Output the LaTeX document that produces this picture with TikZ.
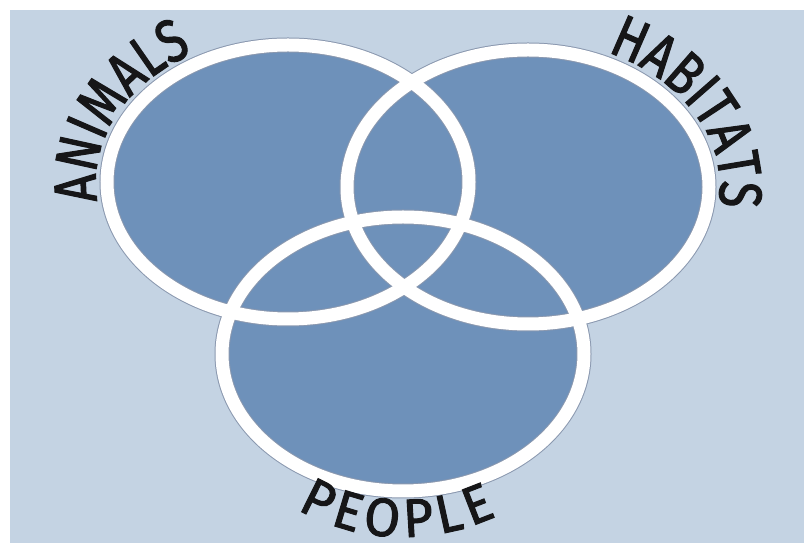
\documentclass[tikz,border=0pt]{standalone}
\usepackage{fontspec}
\setmainfont{Fira Sans}[FakeBold=1.8,FakeStretch=0.8]
\newfontfamily\peoplefam{Fira Sans}[FakeBold=1.8,FakeStretch=0.96]
\usetikzlibrary{decorations.text}
\definecolor{bgc}{RGB}{196,211,227}
\definecolor{fillc}{RGB}{110,145,186}
\definecolor{edgec}{RGB}{138,152,175}
\definecolor{txtc}{RGB}{22,22,24}
\newcommand\lblfont{\fontsize{60}{60}\selectfont}
\newcommand\pplfont{\peoplefam\fontsize{54}{54}\selectfont\kern6pt}
\tikzset{
  setfill/.style={fill=fillc},
  setedge/.style={draw=edgec, line width=15pt},
  setring/.style={draw=white, line width=13pt},
  arclabel/.style 2 args={decorate, decoration={text along path, text align=center, text color=txtc, text={|#1|#2}}}
}
\begin{document}
\begin{tikzpicture}[x=1pt,y=1pt]
\useasboundingbox (0,0) rectangle (804,543);
\fill[white] (0,0) rectangle (804,543);
\fill[bgc] (10,0) rectangle (804,533);
\coordinate (A) at (288,361);
\coordinate (H) at (528,356);
\coordinate (P) at (403,189);
\foreach \c in {A,H,P}{\fill[setfill] (\c) ellipse [x radius=181, y radius=137];}
\foreach \c in {A,H,P}{\draw[setedge] (\c) ellipse [x radius=181, y radius=137];}
\foreach \c in {A,H,P}{\draw[setring] (\c) ellipse [x radius=181, y radius=137];}
\path[arclabel={\lblfont}{ANIMALS}] (A) ++(203:192 and 148) arc[start angle=203, end angle=107, x radius=192, y radius=148];
\path[arclabel={\lblfont}{HABITATS}] (H) ++(74:192 and 148) arc[start angle=74, end angle=-18, x radius=192, y radius=148];
\path[arclabel={\pplfont}{PEOPLE}] (P) ++(217:200 and 183) arc[start angle=217, end angle=317, x radius=200, y radius=183];
\end{tikzpicture}
\end{document}
